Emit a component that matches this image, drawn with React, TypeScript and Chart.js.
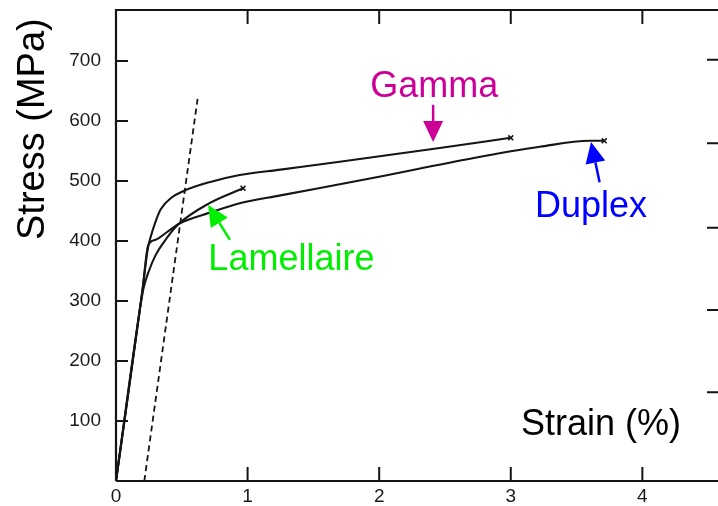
import React, { useEffect, useRef } from 'react';
import { Chart, registerables } from 'chart.js';

Chart.register(...registerables);

// ---- Axis ticks ----
const xTicks = [0, 1, 2, 3, 4];
const yTicks = [100, 200, 300, 400, 500, 600, 700];
const rightTicks = [148, 285, 422, 563, 702];

// ---- Series (strain %, stress MPa) ----
const gammaStrain = [0, 0.2, 0.24, 0.26, 0.3, 0.34, 0.42, 0.51, 0.71, 0.94, 1.25, 1.7, 2.46, 3.0];
const gammaStress = [0, 316, 385, 404, 432, 453, 472, 483, 498, 510, 519, 532, 555, 572];

const duplexStrain = [0, 0.2, 0.245, 0.3, 0.4, 0.49, 0.71, 0.94, 1.25, 1.95, 2.71, 3.22, 3.6, 3.71];
const duplexStress = [0, 316, 393, 402, 417, 430, 447, 463, 476, 505, 538, 557, 567, 567];

const lamStrain = [0, 0.18, 0.21, 0.25, 0.3, 0.36, 0.47, 0.71, 0.965];
const lamStress = [0, 284, 322, 350, 376, 397, 427, 463, 488];

const offsetStrain = [0.215, 0.62];
const offsetStress = [0, 637];

// ---- Annotation labels (data coordinates) ----
const labelNames = ['Gamma', 'Duplex', 'Lamellaire'];
const labelColors = ['#cc0099', '#0000ff', '#00ee00'];
const labelTextX = [2.418, 3.61, 1.333];
const labelTextY = [640, 440, 352];
const arrowTailX = [2.41, 3.675, 0.866];
const arrowTailY = [627, 498, 402];
const arrowTipX = [2.41, 3.61, 0.7];
const arrowTipY = [565, 565, 460];

const FONT = "'Liberation Sans', Arial, Helvetica, sans-serif";
const INK = '#151515';

const toPts = (xs: number[], ys: number[]) => xs.map((x, i) => ({ x, y: ys[i] }));

const endMarker = (n: number) => (ctx: any) => (ctx.dataIndex === n - 1 ? 3.5 : 0);

const framePlugin = {
  id: 'frame',
  afterDatasetsDraw(chart: any) {
    const { ctx, chartArea, scales } = chart;
    const { left, right, top, bottom } = chartArea;
    const x = scales.x;
    const y = scales.y;
    ctx.save();
    ctx.strokeStyle = INK;
    ctx.lineWidth = 2.2;
    ctx.beginPath();
    ctx.moveTo(left, bottom);
    ctx.lineTo(left, top);
    ctx.lineTo(right, top);
    ctx.lineTo(right, bottom);
    ctx.lineTo(left, bottom);
    ctx.stroke();
    ctx.lineWidth = 2;
    ctx.beginPath();
    xTicks.forEach((v) => {
      if (v === 0) return;
      const px = x.getPixelForValue(v);
      ctx.moveTo(px, bottom);
      ctx.lineTo(px, bottom - 14);
      ctx.moveTo(px, top);
      ctx.lineTo(px, top + 14);
    });
    yTicks.forEach((v) => {
      const py = y.getPixelForValue(v);
      ctx.moveTo(left, py);
      ctx.lineTo(left + 12, py);
    });
    rightTicks.forEach((v) => {
      const py = y.getPixelForValue(v);
      ctx.moveTo(right, py);
      ctx.lineTo(right - 13, py);
    });
    ctx.stroke();
    ctx.restore();
  },
};

const labelsPlugin = {
  id: 'labels',
  afterDraw(chart: any) {
    const { ctx, scales } = chart;
    const x = scales.x;
    const y = scales.y;
    ctx.save();
    // axis titles
    ctx.fillStyle = '#000';
    ctx.font = `38px ${FONT}`;
    ctx.textBaseline = 'alphabetic';
    ctx.textAlign = 'left';
    ctx.translate(44, 240);
    ctx.rotate(-Math.PI / 2);
    ctx.fillText('Stress (MPa)', 0, 0);
    ctx.setTransform(1, 0, 0, 1, 0, 0);
    ctx.font = `36px ${FONT}`;
    ctx.textAlign = 'center';
    ctx.fillText('Strain (%)', x.getPixelForValue(3.686), y.getPixelForValue(77));

    labelNames.forEach((name, i) => {
      const color = labelColors[i];
      ctx.fillStyle = color;
      ctx.strokeStyle = color;
      ctx.font = `36px ${FONT}`;
      ctx.textAlign = 'center';
      ctx.fillText(name, x.getPixelForValue(labelTextX[i]), y.getPixelForValue(labelTextY[i]));
      const tx = x.getPixelForValue(arrowTailX[i]);
      const ty = y.getPixelForValue(arrowTailY[i]);
      const hx = x.getPixelForValue(arrowTipX[i]);
      const hy = y.getPixelForValue(arrowTipY[i]);
      const ang = Math.atan2(hy - ty, hx - tx);
      const headLen = 21;
      const headHalf = 10;
      const bx = hx - headLen * Math.cos(ang);
      const by = hy - headLen * Math.sin(ang);
      ctx.lineWidth = 2.5;
      ctx.beginPath();
      ctx.moveTo(tx, ty);
      ctx.lineTo(bx, by);
      ctx.stroke();
      ctx.beginPath();
      ctx.moveTo(hx, hy);
      ctx.lineTo(bx + headHalf * Math.sin(ang), by - headHalf * Math.cos(ang));
      ctx.lineTo(bx - headHalf * Math.sin(ang), by + headHalf * Math.cos(ang));
      ctx.closePath();
      ctx.fill();
    });
    ctx.restore();
  },
};

export default function App() {
  const canvasRef = useRef<HTMLCanvasElement | null>(null);

  useEffect(() => {
    if (!canvasRef.current) return;
    const curve = (xs: number[], ys: number[]) => ({
      data: toPts(xs, ys),
      borderColor: INK,
      borderWidth: 2.1,
      cubicInterpolationMode: 'monotone' as const,
      pointStyle: 'crossRot' as const,
      pointRadius: endMarker(xs.length),
      pointBorderColor: INK,
      pointBorderWidth: 1.6,
      pointBackgroundColor: INK,
      fill: false,
    });
    const chart = new Chart(canvasRef.current, {
      type: 'line',
      data: {
        datasets: [
          { label: 'Gamma', ...curve(gammaStrain, gammaStress) },
          { label: 'Duplex', ...curve(duplexStrain, duplexStress) },
          { label: 'Lamellaire', ...curve(lamStrain, lamStress) },
          {
            label: 'Offset 0.2%',
            data: toPts(offsetStrain, offsetStress),
            borderColor: INK,
            borderWidth: 1.8,
            borderDash: [6, 4],
            pointRadius: 0,
            fill: false,
          },
        ],
      },
      options: {
        animation: false,
        responsive: false,
        maintainAspectRatio: false,
        layout: { padding: { top: 10, right: 6, left: 0, bottom: 0 } },
        plugins: { legend: { display: false }, tooltip: { enabled: false } },
        scales: {
          x: {
            type: 'linear',
            min: 0,
            max: 4.59,
            grid: { display: false, drawTicks: false },
            border: { display: false },
            afterBuildTicks: (s: any) => {
              s.ticks = xTicks.map((v) => ({ value: v }));
            },
            afterFit: (s: any) => {
              s.height = 25;
              s.paddingLeft = 0;
              s.paddingRight = 0;
            },
            ticks: {
              padding: 4,
              maxRotation: 0,
              autoSkip: false,
              color: '#1a1a1a',
              font: { family: FONT, size: 19 },
              callback: (v: any) => String(v),
            },
          },
          y: {
            type: 'linear',
            min: 0,
            max: 785,
            grid: { display: false, drawTicks: false },
            border: { display: false },
            afterBuildTicks: (s: any) => {
              s.ticks = yTicks.map((v) => ({ value: v }));
            },
            afterFit: (s: any) => {
              s.width = 116;
              s.paddingTop = 0;
              s.paddingBottom = 0;
            },
            ticks: {
              padding: 15,
              autoSkip: false,
              color: '#1a1a1a',
              font: { family: FONT, size: 19 },
              callback: (v: any) => String(v),
            },
          },
        },
      },
      plugins: [framePlugin, labelsPlugin],
    });
    return () => chart.destroy();
  }, []);

  return (
    <div
      style={{
        position: 'fixed',
        left: 0,
        top: 0,
        width: 718,
        height: 506,
        overflow: 'hidden',
        background: '#fff',
      }}
    >
      <canvas ref={canvasRef} width={726} height={506} style={{ display: 'block' }} />
    </div>
  );
}
